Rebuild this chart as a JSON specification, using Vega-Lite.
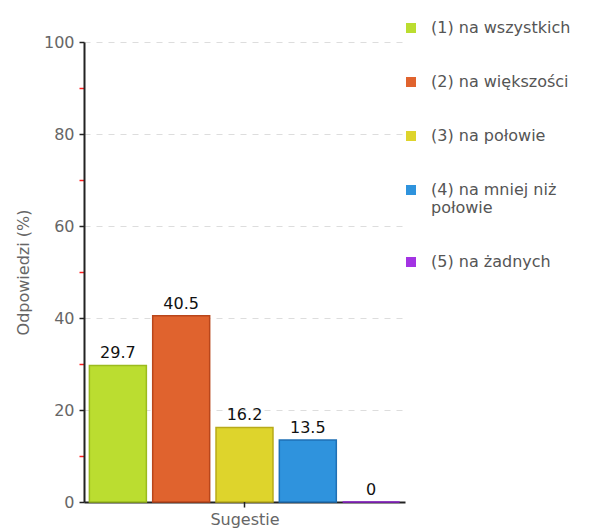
{
  "$schema": "https://vega.github.io/schema/vega-lite/v6.json",
  "width": 321,
  "height": 460,
  "autosize": {"type": "none"},
  "padding": {"left": 84, "top": 42, "right": 207, "bottom": 26},
  "background": "white",
  "config": {
    "view": {"stroke": null},
    "font": "DejaVu Sans"
  },
  "data": {
    "values": [
      {"odp": "(1) na wszystkich", "v": 29.7},
      {"odp": "(2) na większości", "v": 40.5},
      {"odp": "(3) na połowie", "v": 16.2},
      {"odp": "(4) na mniej niż połowie", "v": 13.5},
      {"odp": "(5) na żadnych", "v": 0}
    ]
  },
  "encoding": {
    "x": {
      "field": "odp",
      "type": "nominal",
      "sort": null,
      "scale": {"paddingInner": 0.1, "paddingOuter": 0.085},
      "axis": {
        "title": "Sugestie",
        "labels": false,
        "ticks": false,
        "domainColor": "#222",
        "domainWidth": 2,
        "titleColor": "#666",
        "titleFontSize": 16,
        "titleFontWeight": "normal",
        "titleFont": "DejaVu Sans",
        "titlePadding": 9
      }
    }
  },
  "layer": [
    {
      "mark": {"type": "bar", "strokeWidth": 1.5},
      "encoding": {
        "y": {
          "field": "v",
          "type": "quantitative",
          "scale": {"domain": [0, 100], "nice": false},
          "axis": {
            "title": "Odpowiedzi (%)",
            "values": [0, 10, 20, 30, 40, 50, 60, 70, 80, 90, 100],
            "labelExpr": "datum.value % 20 == 0 ? datum.label : ''",
            "tickColor": {"condition": {"test": "datum.value % 20 != 0", "value": "#ff2020"}, "value": "#222"},
            "gridOpacity": {"condition": {"test": "datum.value % 20 != 0 || datum.value == 0", "value": 0}, "value": 1},
            "grid": true,
            "gridColor": "#dddddd",
            "gridDash": [6, 6],
            "gridWidth": 1,
            "domainColor": "#222",
            "domainWidth": 2,
            "tickSize": 5,
            "tickWidth": 1.5,
            "labelColor": "#666",
            "labelFontSize": 16,
            "labelFont": "DejaVu Sans",
            "labelPadding": 5,
            "titleColor": "#666",
            "titleFontSize": 16,
            "titleFontWeight": "normal",
            "titleFont": "DejaVu Sans",
            "titlePadding": 12
          }
        },
        "fill": {
          "field": "odp",
          "type": "nominal",
          "sort": null,
          "scale": {
            "domain": ["(1) na wszystkich", "(2) na większości", "(3) na połowie", "(4) na mniej niż połowie", "(5) na żadnych"],
            "range": ["#bbdd30", "#e0632e", "#ded42c", "#2f93dd", "#a333e3"]
          },
          "legend": {
            "orient": "none",
            "legendX": 319,
            "legendY": -22,
            "title": null,
            "padding": 0,
            "symbolType": "square",
            "symbolSize": 100,
            "symbolStrokeWidth": 0,
            "labelFontSize": 16,
            "labelFont": "DejaVu Sans",
            "labelColor": "#555",
            "labelOffset": 12,
            "labelLimit": 300,
            "rowPadding": 38,
            "labelExpr": "datum.label == '(4) na mniej niż połowie' ? [' (4) na mniej niż', 'połowie'] : ' ' + datum.label"
          }
        },
        "stroke": {
          "field": "odp",
          "type": "nominal",
          "sort": null,
          "scale": {
            "domain": ["(1) na wszystkich", "(2) na większości", "(3) na połowie", "(4) na mniej niż połowie", "(5) na żadnych"],
            "range": ["#9bbb1e", "#b9461b", "#b8aa1a", "#1f70b5", "#9020d0"]
          },
          "legend": null
        }
      }
    },
    {
      "mark": {"type": "text", "baseline": "bottom", "dy": -4, "fontSize": 16, "font": "DejaVu Sans", "color": "#111"},
      "encoding": {
        "y": {"field": "v", "type": "quantitative"},
        "text": {"field": "v", "type": "quantitative"}
      }
    },
    {
      "data": {"values": [{"odp": "(3) na połowie", "v": 0, "v2": -1.2}]},
      "mark": {"type": "rule", "strokeWidth": 1.5, "color": "#222"},
      "encoding": {
        "y": {"field": "v", "type": "quantitative"},
        "y2": {"field": "v2"}
      }
    }
  ]
}
